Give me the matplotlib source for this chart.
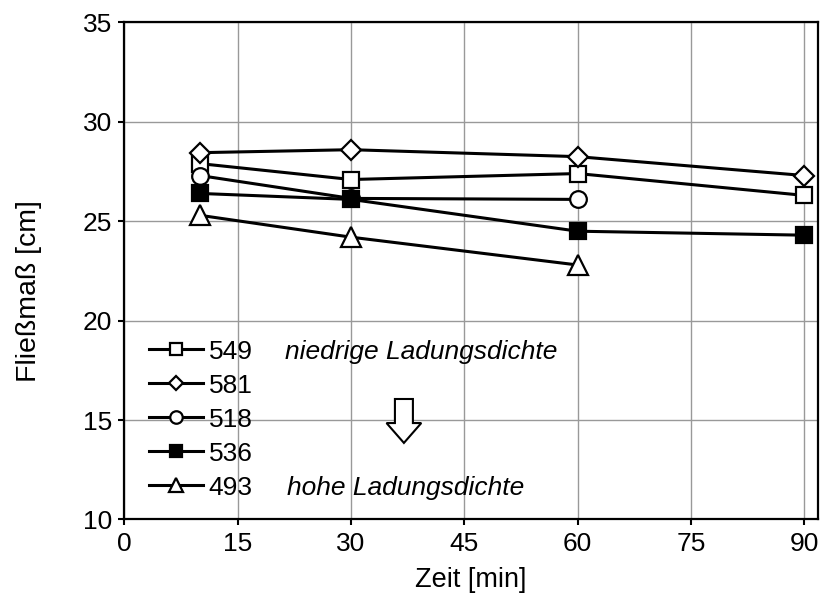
import matplotlib
matplotlib.use("Agg")
import matplotlib.pyplot as plt
from matplotlib.patches import FancyArrow

plt.rcParams['font.family'] = ['Liberation Sans', 'DejaVu Sans']

# Flow spread over time for five polymers
zeit = [10, 30, 60, 90]
series_names = ["549", "581", "518", "536", "493"]
s549 = [27.9, 27.1, 27.4, 26.3]
s581 = [28.45, 28.6, 28.25, 27.3]
s518 = [27.3, 26.15, 26.1]
s536 = [26.4, 26.1, 24.5, 24.3]
s493 = [25.3, 24.2, 22.8]

x_ticks = [0, 15, 30, 45, 60, 75, 90]
y_ticks = [10, 15, 20, 25, 30, 35]

fig = plt.figure(figsize=(8.21, 6.07), dpi=100)
ax = fig.add_axes([0.1514, 0.1442, 0.845, 0.8188])

styles = [
    dict(marker='s', ms=11.5, mfc='white'),
    dict(marker='D', ms=10, mfc='white'),
    dict(marker='o', ms=12, mfc='white'),
    dict(marker='s', ms=11.5, mfc='black'),
    dict(marker='^', ms=14, mfc='white'),
]
values = [s549, s581, s518, s536, s493]
for name, vals, st in zip(series_names, values, styles):
    ax.plot(zeit[:len(vals)], vals, color='black', lw=2.2, mec='black',
            mew=1.6, label=name, zorder=3, clip_on=False, **st)

ax.set_xlim(0, 91.8)
ax.set_ylim(10, 35)
ax.set_xticks(x_ticks)
ax.set_yticks(y_ticks)
ax.grid(True, color='#999999', lw=1.0)
ax.set_axisbelow(True)
for sp in ax.spines.values():
    sp.set_linewidth(1.6)
    sp.set_color('black')
ax.tick_params(direction='out', length=4, width=1.5, labelsize=19, pad=5)

ax.set_xlabel("Zeit [min]", fontsize=19.5, labelpad=8)
ax.set_ylabel("Fließmaß [cm]", fontsize=20.5)
ax.yaxis.set_label_coords(-0.118, 0.46)

leg = ax.legend(loc='upper left', bbox_to_anchor=(0.035, 0.362), frameon=False,
                fontsize=19, handlelength=2.05, handletextpad=0.23,
                labelspacing=0.38, borderpad=0, borderaxespad=0, markerscale=0.75)

ax.text(0.2317, 0.337, "niedrige Ladungsdichte", transform=ax.transAxes,
        style='italic', fontsize=19, va='center', ha='left')
ax.text(0.2345, 0.0634, "hohe Ladungsdichte", transform=ax.transAxes,
        style='italic', fontsize=19, va='center', ha='left')

arrow = FancyArrow(37.0, 16.06, 0, -2.21, width=2.38, head_width=4.6,
                   head_length=1.0, length_includes_head=True,
                   fc='white', ec='black', lw=1.5, zorder=4)
ax.add_patch(arrow)

fig.savefig("out.png", dpi=100)
